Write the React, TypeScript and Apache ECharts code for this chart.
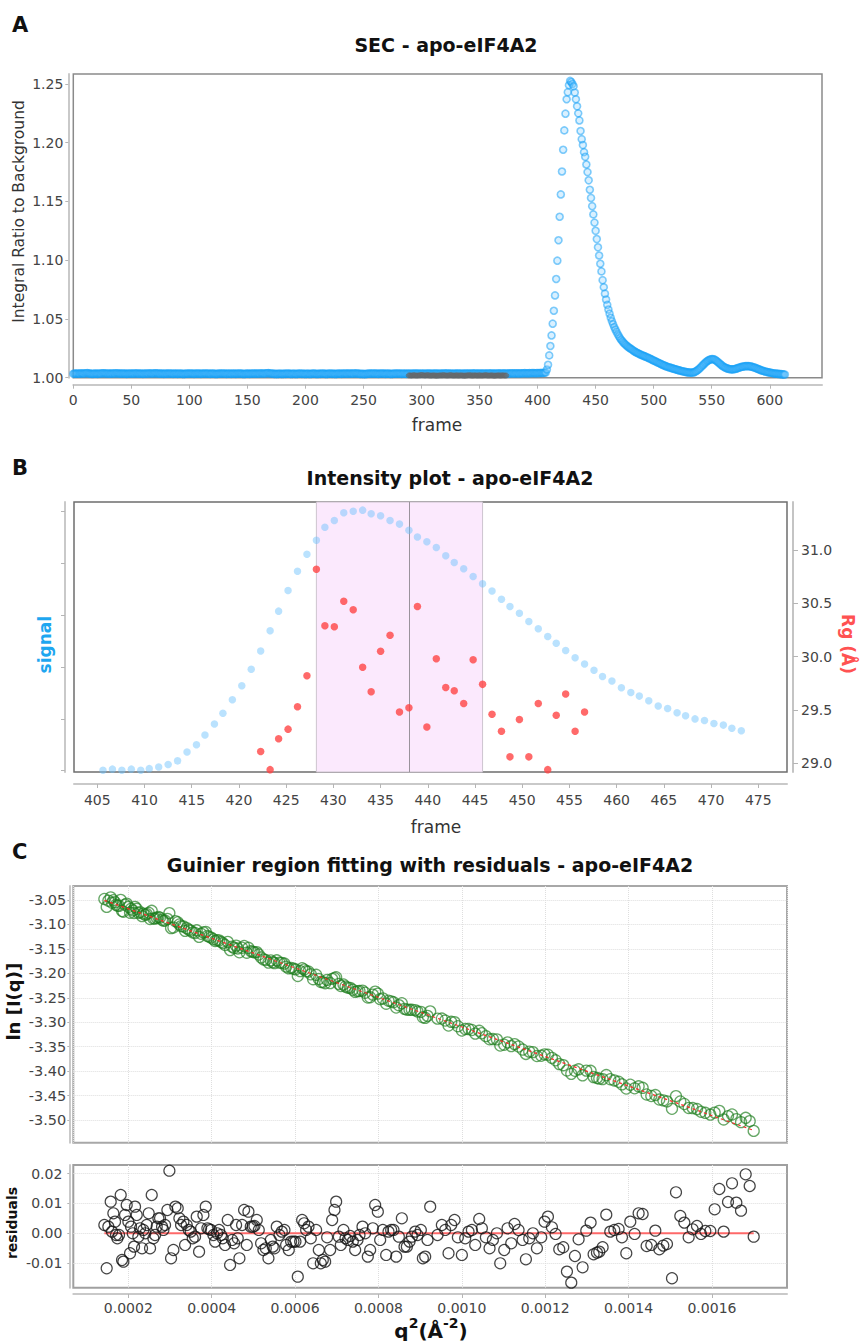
import React, { useEffect, useRef } from "react";
import * as echarts from "echarts";

// ---------- Panel A : SEC profile ----------
const secStartFrame = 0;
const secBaseline = [
  1.0033,1.0035,1.0034,1.0036,1.0035,1.0034,1.0036,1.0037,1.0036,1.0035,
  1.0037,1.0038,1.0039,1.0037,1.0035,1.0034,1.0033,1.0033,1.0034,1.0035,
  1.0034,1.0033,1.0035,1.0036,1.0035,1.0037,1.0038,1.0037,1.0036,1.0035,
  1.0036,1.0035,1.0034,1.0035,1.0036,1.0037,1.0036,1.0037,1.0038,1.0036,
  1.0035,1.0034,1.0035,1.0036,1.0035,1.0034,1.0033,1.0034,1.0035,1.0036,
  1.0035,1.0034,1.0035,1.0036,1.0037,1.0036,1.0035,1.0034,1.0035,1.0034,
  1.0033,1.0034,1.0035,1.0036,1.0035,1.0036,1.0037,1.0036,1.0035,1.0036,
  1.0037,1.0038,1.0037,1.0036,1.0035,1.0034,1.0035,1.0034,1.0033,1.0034,
  1.0035,1.0034,1.0035,1.0036,1.0035,1.0034,1.0033,1.0034,1.0035,1.0034,
  1.0033,1.0034,1.0035,1.0034,1.0033,1.0032,1.0033,1.0034,1.0035,1.0034,
  1.0035,1.0036,1.0035,1.0034,1.0033,1.0034,1.0035,1.0036,1.0035,1.0034,
  1.0033,1.0034,1.0035,1.0036,1.0035,1.0034,1.0035,1.0034,1.0033,1.0034,
  1.0035,1.0034,1.0033,1.0032,1.0033,1.0034,1.0035,1.0034,1.0035,1.0036,
  1.0035,1.0034,1.0033,1.0034,1.0035,1.0034,1.0033,1.0034,1.0035,1.0034,
  1.0033,1.0034,1.0035,1.0036,1.0035,1.0034,1.0033,1.0032,1.0033,1.0034,
  1.0035,1.0034,1.0033,1.0034,1.0035,1.0036,1.0035,1.0034,1.0035,1.0036,
  1.0035,1.0036,1.0037,1.0036,1.0035,1.0036,1.0037,1.0038,1.0039,1.0037,
  1.0036,1.0035,1.0034,1.0033,1.0032,1.0033,1.0032,1.0033,1.0034,1.0033,
  1.0032,1.0033,1.0034,1.0033,1.0034,1.0035,1.0034,1.0033,1.0032,1.0033,
  1.0034,1.0033,1.0032,1.0033,1.0034,1.0035,1.0034,1.0033,1.0034,1.0033,
  1.0032,1.0033,1.0034,1.0033,1.0032,1.0033,1.0034,1.0035,1.0034,1.0033,
  1.0032,1.0033,1.0034,1.0033,1.0034,1.0035,1.0034,1.0033,1.0032,1.0033,
  1.0034,1.0035,1.0034,1.0033,1.0034,1.0033,1.0032,1.0033,1.0034,1.0035,
  1.0034,1.0033,1.0034,1.0035,1.0036,1.0035,1.0034,1.0035,1.0036,1.0035,
  1.0034,1.0035,1.0036,1.0037,1.0036,1.0035,1.0034,1.0033,1.0032,1.0033,
  1.0032,1.0031,1.0032,1.0033,1.0034,1.0035,1.0034,1.0035,1.0036,1.0035,
  1.0034,1.0035,1.0034,1.0033,1.0034,1.0035,1.0036,1.0035,1.0034,1.0033,
  1.0034,1.0035,1.0034,1.0033,1.0032,1.0033,1.0034,1.0035,1.0034,1.0035,
  1.0036,1.0035,1.0034,1.0033,1.0034,1.0035,1.0034,1.0033,1.0034,1.0035,
  1.0034,1.0033,1.0034,1.0035,1.0036,1.0035,1.0034,1.0035,1.0034,1.0033,
  1.0034,1.0035,1.0034,1.0033,1.0034,1.0035,1.0036,1.0035,1.0034,1.0033,
  1.0034,1.0035,1.0036,1.0035,1.0034,1.0033,1.0034,1.0035,1.0034,1.0035,
  1.0036,1.0037,1.0036,1.0035,1.0034,1.0035,1.0034,1.0033,1.0034,1.0035,
  1.0034,1.0035,1.0036,1.0035,1.0034,1.0033,1.0034,1.0035,1.0036,1.0035,
  1.0034,1.0035,1.0034,1.0035,1.0036,1.0037,1.0036,1.0035,1.0034,1.0035,
  1.0036,1.0035,1.0034,1.0035,1.0036,1.0035,1.0034,1.0035,1.0036,1.0037,
  1.0036,1.0035,1.0034,1.0035,1.0036,1.0035,1.0036,1.0037,1.0036,1.0035,
  1.0036,1.0037,1.0036,1.0035,1.0036,1.0037,1.0036,1.0037,1.0038,1.0037,
  1.0036,1.0037,1.0038,1.0037,1.0036,1.0037,1.0038,1.0037,1.0038,1.0039,
  1.0038,1.0037,1.0038,1.0039,1.0038,1.0039,1.0040,1.0039,1.0038,1.0039,
  1.0040,1.0039,1.0040,1.0041,1.0040,1.0041,1.0042,
];
const secPeak = [
  1.0045,1.0070,1.0110,1.0190,1.0270,1.0360,1.0460,1.0570,1.0700,1.0840,
  1.0996,1.1170,1.1370,1.1560,1.1755,1.1940,1.2105,1.2247,1.2370,1.2430,
  1.2490,1.2526,1.2517,1.2500,1.2480,1.2427,1.2370,1.2310,1.2250,1.2190,
  1.2100,1.2030,1.1980,1.1920,1.1880,1.1815,1.1750,1.1680,1.1600,1.1530,
  1.1460,1.1390,1.1320,1.1250,1.1180,1.1110,1.1040,1.0970,1.0905,1.0830,
  1.0770,1.0715,1.0665,1.0620,1.0580,1.0545,1.0510,1.0480,1.0455,1.0430,
  1.0410,1.0390,1.0370,1.0352,1.0336,1.0322,1.0310,1.0298,1.0288,1.0279,
  1.0270,1.0262,1.0255,1.0248,1.0241,1.0234,1.0227,1.0221,1.0215,1.0210,
  1.0205,1.0200,1.0196,1.0191,1.0187,1.0183,1.0179,1.0175,1.0170,1.0166,
  1.0161,1.0156,1.0151,1.0146,1.0141,1.0137,1.0132,1.0127,1.0122,1.0118,
  1.0113,1.0108,1.0104,1.0100,1.0096,1.0092,1.0089,1.0086,1.0083,1.0080,
  1.0077,1.0074,1.0071,1.0068,1.0065,1.0062,1.0060,1.0057,1.0055,1.0052,
  1.0050,1.0048,1.0046,1.0045,1.0044,1.0043,1.0043,1.0044,1.0047,1.0052,
  1.0058,1.0065,1.0073,1.0082,1.0092,1.0103,1.0113,1.0123,1.0132,1.0140,
  1.0147,1.0152,1.0156,1.0158,1.0158,1.0156,1.0151,1.0144,1.0136,1.0127,
  1.0118,1.0110,1.0102,1.0095,1.0089,1.0084,1.0080,1.0077,1.0074,1.0072,
  1.0071,1.0071,1.0072,1.0074,1.0077,1.0080,1.0084,1.0087,1.0090,1.0093,
  1.0095,1.0097,1.0098,1.0099,1.0099,1.0098,1.0097,1.0095,1.0092,1.0089,
  1.0086,1.0082,1.0078,1.0074,1.0070,1.0066,1.0062,1.0059,1.0056,1.0053,
  1.0050,1.0048,1.0046,1.0044,1.0042,1.0040,1.0038,1.0036,1.0035,1.0034,
  1.0033,1.0032,1.0031,1.0030,1.0029,1.0028,1.0027,
];
const bufferStartFrame = 289;
const bufferRatio = [
  1.0019,1.0020,1.0018,1.0019,1.0021,1.0020,1.0019,1.0018,1.0019,1.0020,
  1.0021,1.0022,1.0021,1.0020,1.0019,1.0020,1.0021,1.0020,1.0019,1.0018,
  1.0019,1.0020,1.0019,1.0018,1.0017,1.0018,1.0019,1.0020,1.0019,1.0020,
  1.0021,1.0020,1.0019,1.0018,1.0019,1.0020,1.0021,1.0020,1.0019,1.0018,
  1.0019,1.0020,1.0019,1.0018,1.0019,1.0020,1.0019,1.0018,1.0017,1.0018,
  1.0019,1.0020,1.0021,1.0020,1.0019,1.0018,1.0019,1.0020,1.0019,1.0018,
  1.0019,1.0020,1.0019,1.0018,1.0019,1.0020,1.0021,1.0020,1.0019,1.0018,
  1.0019,1.0020,1.0019,1.0018,1.0017,1.0018,1.0019,1.0020,1.0019,1.0018,
  1.0019,1.0020,1.0019,1.0018,1.0019,
];
const secXTicks = [0, 50, 100, 150, 200, 250, 300, 350, 400, 450, 500, 550, 600];
const secYTicks = [1.0, 1.05, 1.1, 1.15, 1.2, 1.25];

// ---------- Panel B : intensity plot ----------
const bFrames = [
  405.6,406.6,407.6,408.6,409.6,410.5,411.5,412.5,413.5,414.5,
  415.5,416.4,417.4,418.3,419.3,420.3,421.3,422.3,423.3,424.2,
  425.2,426.2,427.2,428.2,429.1,430.1,431.1,432.1,433.1,434.0,
  435.0,436.0,437.0,438.0,438.9,439.9,440.9,441.9,442.8,443.8,
  444.8,445.8,446.8,447.8,448.7,449.7,450.7,451.7,452.7,453.6,
  454.6,455.6,456.6,457.6,458.5,459.5,460.5,461.5,462.4,463.4,
  464.4,465.4,466.4,467.3,468.3,469.3,470.3,471.3,472.2,473.2,
];
const bSignal = [
  0.01,0.03,0.01,0.03,0.01,0.04,0.07,0.12,0.19,0.36,
  0.50,0.69,0.90,1.11,1.37,1.64,1.96,2.31,2.70,3.08,
  3.48,3.85,4.18,4.45,4.70,4.83,4.98,5.01,5.03,4.96,
  4.92,4.83,4.76,4.64,4.51,4.42,4.31,4.15,4.02,3.90,
  3.75,3.61,3.47,3.31,3.17,3.04,2.88,2.74,2.59,2.46,
  2.32,2.18,2.06,1.94,1.82,1.73,1.60,1.51,1.44,1.35,
  1.25,1.20,1.12,1.06,1.00,0.97,0.91,0.88,0.82,0.77,
];
const bRg = [
  null,null,null,null,null,null,null,null,null,null,
  null,null,null,null,null,null,null,29.11,28.94,29.23,
  29.32,29.53,29.82,30.82,30.29,30.28,30.52,30.44,29.90,29.67,
  30.05,30.20,29.48,29.52,30.47,29.34,29.98,29.71,29.68,29.56,
  29.97,29.74,29.46,29.30,29.06,29.41,29.06,29.56,28.94,29.45,
  29.65,29.30,29.48,null,null,null,null,null,null,null,
  null,null,null,null,null,null,null,null,null,null,
];
const bSelStartIdx = 23;
const bSelEndIdx = 41;
const bSelMidIdx = 33;
const bXTicks = [405, 410, 415, 420, 425, 430, 435, 440, 445, 450, 455, 460, 465, 470, 475];
const bSignalTicks = [0, 1, 2, 3, 4, 5];
const bRgTicks = [29.0, 29.5, 30.0, 30.5, 31.0];

// ---------- Panel C : Guinier fit ----------
const guinierIntercept = -3.0077;
const guinierSlope = -302;
const guinierQ2 = [
  1.425e-4,1.481e-4,1.521e-4,1.577e-4,1.609e-4,1.641e-4,1.681e-4,1.705e-4,1.737e-4,1.777e-4,
  1.817e-4,1.849e-4,1.881e-4,1.921e-4,1.961e-4,2.001e-4,2.041e-4,2.065e-4,2.105e-4,2.137e-4,
  2.161e-4,2.201e-4,2.241e-4,2.281e-4,2.329e-4,2.361e-4,2.409e-4,2.441e-4,2.489e-4,2.521e-4,
  2.561e-4,2.601e-4,2.641e-4,2.681e-4,2.721e-4,2.761e-4,2.809e-4,2.841e-4,2.881e-4,2.937e-4,
  2.985e-4,3.025e-4,3.081e-4,3.129e-4,3.185e-4,3.225e-4,3.265e-4,3.321e-4,3.361e-4,3.401e-4,
  3.449e-4,3.497e-4,3.545e-4,3.601e-4,3.641e-4,3.697e-4,3.745e-4,3.801e-4,3.857e-4,3.897e-4,
  3.937e-4,3.985e-4,4.041e-4,4.081e-4,4.129e-4,4.177e-4,4.225e-4,4.265e-4,4.321e-4,4.385e-4,
  4.441e-4,4.489e-4,4.537e-4,4.585e-4,4.625e-4,4.665e-4,4.729e-4,4.777e-4,4.841e-4,4.881e-4,
  4.937e-4,4.985e-4,5.025e-4,5.081e-4,5.129e-4,5.185e-4,5.241e-4,5.297e-4,5.361e-4,5.417e-4,
  5.465e-4,5.505e-4,5.561e-4,5.625e-4,5.681e-4,5.745e-4,5.785e-4,5.849e-4,5.905e-4,5.961e-4,
  6.009e-4,6.065e-4,6.121e-4,6.169e-4,6.217e-4,6.265e-4,6.321e-4,6.377e-4,6.433e-4,6.505e-4,
  6.569e-4,6.617e-4,6.665e-4,6.721e-4,6.769e-4,6.841e-4,6.889e-4,6.945e-4,6.985e-4,7.049e-4,
  7.097e-4,7.161e-4,7.209e-4,7.265e-4,7.321e-4,7.385e-4,7.441e-4,7.497e-4,7.545e-4,7.617e-4,
  7.681e-4,7.745e-4,7.801e-4,7.865e-4,7.921e-4,7.985e-4,8.041e-4,8.105e-4,8.185e-4,8.241e-4,
  8.305e-4,8.361e-4,8.425e-4,8.489e-4,8.561e-4,8.625e-4,8.681e-4,8.745e-4,8.801e-4,8.881e-4,
  8.937e-4,9.017e-4,9.065e-4,9.121e-4,9.177e-4,9.241e-4,9.417e-4,9.521e-4,9.601e-4,9.681e-4,
  9.745e-4,9.825e-4,9.905e-4,10.001e-4,10.081e-4,10.161e-4,10.241e-4,10.321e-4,10.417e-4,10.481e-4,
  10.577e-4,10.665e-4,10.745e-4,10.841e-4,10.921e-4,11.017e-4,11.097e-4,11.185e-4,11.265e-4,11.361e-4,
  11.457e-4,11.537e-4,11.617e-4,11.705e-4,11.801e-4,11.905e-4,11.985e-4,12.065e-4,12.161e-4,12.249e-4,
  12.337e-4,12.433e-4,12.521e-4,12.625e-4,12.713e-4,12.801e-4,12.897e-4,12.985e-4,13.089e-4,13.161e-4,
  13.241e-4,13.297e-4,13.377e-4,13.465e-4,13.561e-4,13.657e-4,13.761e-4,13.841e-4,13.945e-4,14.041e-4,
  14.145e-4,14.241e-4,14.337e-4,14.433e-4,14.545e-4,14.641e-4,14.737e-4,14.833e-4,14.921e-4,15.041e-4,
  15.137e-4,15.241e-4,15.337e-4,15.441e-4,15.537e-4,15.641e-4,15.737e-4,15.841e-4,15.961e-4,16.065e-4,
  16.177e-4,16.281e-4,16.385e-4,16.481e-4,16.585e-4,16.697e-4,16.809e-4,16.905e-4,17.001e-4,
];
const guinierResid = [
  2.79e-3,-11.73e-3,2.23e-3,10.61e-3,0.56e-3,6.70e-3,3.91e-3,-0.56e-3,-1.68e-3,-0.56e-3,
  12.85e-3,-8.94e-3,-9.50e-3,6.15e-3,9.50e-3,3.91e-3,-6.70e-3,2.23e-3,0.00e-3,-4.47e-3,
  8.94e-3,6.15e-3,-1.12e-3,1.68e-3,-5.03e-3,1.12e-3,0.00e-3,2.79e-3,6.70e-3,-5.03e-3,
  12.85e-3,-1.68e-3,-0.56e-3,2.23e-3,5.03e-3,5.03e-3,2.23e-3,1.12e-3,2.79e-3,7.82e-3,
  21.0e-3,-8.38e-3,-5.59e-3,8.94e-3,8.38e-3,5.03e-3,2.79e-3,3.91e-3,-3.91e-3,2.79e-3,
  1.12e-3,0.56e-3,-1.68e-3,-1.12e-3,5.59e-3,-6.15e-3,1.68e-3,6.15e-3,8.94e-3,1.68e-3,
  1.34e-3,1.12e-3,-0.56e-3,-2.79e-3,0.00e-3,1.12e-3,-0.56e-3,-1.68e-3,-3.91e-3,4.47e-3,
  -10.61e-3,-2.23e-3,-3.35e-3,2.79e-3,-1.68e-3,-8.38e-3,2.79e-3,7.82e-3,-3.91e-3,7.26e-3,
  2.23e-3,2.23e-3,2.46e-3,4.47e-3,1.12e-3,-3.35e-3,-5.59e-3,-5.03e-3,-8.38e-3,-2.23e-3,
  -4.47e-3,-5.03e-3,2.23e-3,-0.56e-3,0.56e-3,1.12e-3,-3.91e-3,-5.59e-3,-2.79e-3,-2.79e-3,
  -2.79e-3,-14.53e-3,-2.79e-3,4.47e-3,3.35e-3,1.12e-3,2.23e-3,-1.68e-3,-10.06e-3,1.12e-3,
  -5.59e-3,-10.06e-3,-8.94e-3,-9.50e-3,-1.34e-3,-5.59e-3,4.47e-3,7.82e-3,10.61e-3,-1.12e-3,
  -3.91e-3,1.12e-3,-1.68e-3,-2.23e-3,-0.89e-3,-2.79e-3,-5.59e-3,-2.23e-3,-0.56e-3,2.23e-3,
  0.00e-3,-7.82e-3,-5.59e-3,1.68e-3,9.50e-3,7.26e-3,-2.23e-3,1.12e-3,-7.26e-3,0.56e-3,
  1.12e-3,1.12e-3,-7.82e-3,-1.12e-3,5.03e-3,-4.47e-3,-4.47e-3,-2.79e-3,-1.12e-3,0.56e-3,
  -0.56e-3,1.12e-3,-8.38e-3,-7.82e-3,-2.23e-3,8.94e-3,-0.56e-3,2.79e-3,1.12e-3,-6.70e-3,
  2.79e-3,4.47e-3,-1.34e-3,-7.26e-3,-1.68e-3,0.56e-3,1.12e-3,-3.91e-3,4.80e-3,1.68e-3,
  -1.34e-3,-5.03e-3,-2.23e-3,0.00e-3,-10.06e-3,-5.59e-3,1.68e-3,-3.35e-3,3.13e-3,1.12e-3,
  -2.23e-3,-8.72e-3,-1.68e-3,0.00e-3,-5.03e-3,-1.34e-3,3.91e-3,5.59e-3,2.01e-3,-0.22e-3,
  -5.36e-3,-4.69e-3,-12.85e-3,-16.54e-3,-7.60e-3,-2.01e-3,-11.40e-3,0.89e-3,3.58e-3,-7.04e-3,
  -6.48e-3,-6.15e-3,-4.69e-3,6.26e-3,0.56e-3,1.12e-3,1.45e-3,-1.34e-3,-6.70e-3,3.91e-3,
  -0.22e-3,6.70e-3,6.48e-3,-4.25e-3,-3.91e-3,0.89e-3,-5.36e-3,-4.13e-3,-3.58e-3,-15.08e-3,
  13.74e-3,5.81e-3,3.58e-3,-1.34e-3,1.34e-3,2.46e-3,-0.22e-3,0.78e-3,0.78e-3,8.04e-3,
  14.86e-3,0.56e-3,10.50e-3,16.76e-3,10.28e-3,7.60e-3,19.78e-3,15.87e-3,-1.12e-3,
];
const guinierYTicks = [-3.5, -3.45, -3.4, -3.35, -3.3, -3.25, -3.2, -3.15, -3.1, -3.05];
const q2Ticks = [0.0002, 0.0004, 0.0006, 0.0008, 0.001, 0.0012, 0.0014, 0.0016];
const residTicks = [-0.01, 0, 0.01, 0.02];

const FONT = "DejaVu Sans";
const LBL = "#444";

function buildOption() {
  const secData = secBaseline.concat(secPeak).map((v, i) => [secStartFrame + i, v]);
  const bufData = bufferRatio.map((v, i) => [bufferStartFrame + i, v]);
  const sigData = bFrames.map((f, i) => [f, bSignal[i]]);
  const rgData = bFrames
    .map((f, i) => [f, bRg[i]])
    .filter((d) => d[1] !== null);
  const fit = (q: number) => guinierIntercept + guinierSlope * q;
  const lnIData = guinierQ2.map((q, i) => [q, fit(q) + guinierResid[i]]);
  const residData = guinierQ2.map((q, i) => [q, guinierResid[i]]);
  const qFirst = guinierQ2[0];
  const qLast = guinierQ2[guinierQ2.length - 1];

  const lightAxis = (extra: any = {}) => ({
    show: true,
    onZero: false,
    lineStyle: { color: "#c9c9c9", width: 2 },
    ...extra,
  });
  const lbl = (extra: any = {}) => ({
    show: true,
    fontSize: 14,
    color: LBL,
    fontFamily: FONT,
    ...extra,
  });
  const tick = (values: number[], len = 4) => ({
    show: true,
    inside: false,
    length: len,
    customValues: values,
    lineStyle: { color: "#b5b5b5", width: 1 },
  });
  const dotted = { show: true, lineStyle: { color: "#dedede", type: "dotted", width: 1 } };

  const txt = (text: string, x: number, y: number, size: number, opts: any = {}) => ({
    type: "text",
    x,
    y,
    rotation: opts.rotation || 0,
    silent: true,
    style: {
      text,
      fontSize: size,
      fontWeight: opts.bold ? "bold" : "normal",
      fontFamily: FONT,
      fill: opts.color || "#111",
      align: opts.align || "center",
      verticalAlign: "middle",
    },
  });

  return {
    animation: false,
    backgroundColor: "#ffffff",
    textStyle: { fontFamily: FONT },
    grid: [
      { left: 73.3, top: 74, width: 748.7, height: 303.7, show: true, borderColor: "#8a8a8a", borderWidth: 1.5, backgroundColor: "transparent", containLabel: false, outerBoundsMode: "none" },
      { left: 74, top: 502, width: 713, height: 270, show: true, borderColor: "#6e6e6e", borderWidth: 1.5, backgroundColor: "transparent", containLabel: false, outerBoundsMode: "none" },
      { left: 73.3, top: 886, width: 713.7, height: 256.7, show: true, borderColor: "#a8a8a8", borderWidth: 2, backgroundColor: "transparent", containLabel: false, outerBoundsMode: "none" },
      { left: 73.3, top: 1165, width: 713.7, height: 122.7, show: true, borderColor: "#a0a0a0", borderWidth: 2, backgroundColor: "transparent", containLabel: false, outerBoundsMode: "none" },
    ],
    xAxis: [
      {
        gridIndex: 0, type: "value", position: "bottom", offset: 7, min: 0, max: 645, splitNumber: 13,
        axisLine: lightAxis(), axisTick: tick(secXTicks),
        axisLabel: lbl({ customValues: secXTicks, margin: 8 }),
        splitLine: { show: false },
      },
      {
        gridIndex: 1, type: "value", position: "bottom", offset: 12, min: 402.53, max: 478.04, splitNumber: 15,
        axisLine: lightAxis(), axisTick: tick(bXTicks),
        axisLabel: lbl({ customValues: bXTicks, margin: 9 }),
        splitLine: { show: false },
      },
      {
        gridIndex: 2, type: "value", min: 0.000068, max: 0.00178, splitNumber: 8,
        axisLine: { show: false, onZero: false }, axisTick: { show: false }, axisLabel: { show: false },
        splitLine: dotted,
      },
      {
        gridIndex: 3, type: "value", position: "bottom", offset: 6.3, min: 0.000068, max: 0.00178, splitNumber: 8,
        axisLine: lightAxis(), axisTick: tick(q2Ticks),
        axisLabel: lbl({ customValues: q2Ticks, margin: 7, formatter: (v: number) => v.toFixed(4) }),
        splitLine: dotted,
      },
    ],
    yAxis: [
      {
        gridIndex: 0, type: "value", position: "left", offset: 5, min: 1.0, max: 1.2585, splitNumber: 5,
        axisLine: lightAxis(), axisTick: tick(secYTicks, 3),
        axisLabel: lbl({ customValues: secYTicks, margin: 5, formatter: (v: number) => v.toFixed(2) }),
        splitLine: { show: false },
      },
      {
        gridIndex: 1, type: "value", position: "left", offset: 9, min: -0.025, max: 5.187, splitNumber: 5,
        axisLine: lightAxis(), axisTick: tick(bSignalTicks, 4),
        axisLabel: { show: false },
        splitLine: { show: false },
      },
      {
        gridIndex: 1, type: "value", position: "right", offset: 6, min: 28.918, max: 31.45, splitNumber: 5,
        axisLine: lightAxis({ lineStyle: { color: "#c4c4c4", width: 2 } }), axisTick: tick(bRgTicks, 5),
        axisLabel: lbl({ customValues: bRgTicks, margin: 8, formatter: (v: number) => v.toFixed(1) }),
        splitLine: { show: false },
      },
      {
        gridIndex: 2, type: "value", position: "left", offset: 4, min: -3.5464, max: -3.0214, splitNumber: 10,
        axisLine: lightAxis(), axisTick: tick(guinierYTicks, 2),
        axisLabel: lbl({ customValues: guinierYTicks, margin: 3, fontSize: 14.5, formatter: (v: number) => v.toFixed(2) }),
        splitLine: dotted,
      },
      {
        gridIndex: 3, type: "value", position: "left", offset: 4, min: -0.01824, max: 0.0229, splitNumber: 4,
        axisLine: lightAxis(), axisTick: tick(residTicks, 2),
        axisLabel: lbl({ customValues: residTicks, margin: 7, formatter: (v: number) => v.toFixed(2) }),
        splitLine: dotted,
      },
    ],
    series: [
      {
        name: "SEC signal", type: "scatter", xAxisIndex: 0, yAxisIndex: 0, data: secData,
        symbol: "circle", symbolSize: 7,
        itemStyle: { color: "rgba(120,200,255,0.35)", borderColor: "rgba(20,160,245,0.65)", borderWidth: 1.6 },
        z: 2,
      },
      {
        name: "Buffer frames", type: "scatter", xAxisIndex: 0, yAxisIndex: 0, data: bufData,
        symbol: "circle", symbolSize: 5,
        itemStyle: { color: "rgba(110,110,110,0.55)", borderColor: "rgba(100,100,100,0.7)", borderWidth: 1 },
        z: 3,
      },
      {
        name: "signal", type: "scatter", xAxisIndex: 1, yAxisIndex: 1, data: sigData,
        symbol: "circle", symbolSize: 7.5,
        itemStyle: { color: "rgba(110,195,252,0.6)" },
        z: 3,
        markArea: {
          silent: true,
          z: 1,
          itemStyle: { color: "#fbe9fd", borderColor: "#cdc4cf", borderWidth: 1 },
          data: [[{ xAxis: bFrames[bSelStartIdx] }, { xAxis: bFrames[bSelEndIdx] }]],
        },
        markLine: {
          silent: true,
          z: 1,
          symbol: ["none", "none"],
          label: { show: false },
          lineStyle: { color: "#9a939c", width: 1, type: "solid" },
          data: [{ xAxis: bFrames[bSelMidIdx] }],
        },
      },
      {
        name: "Rg", type: "scatter", xAxisIndex: 1, yAxisIndex: 2, data: rgData,
        symbol: "circle", symbolSize: 7.5,
        itemStyle: { color: "#ff4545" },
        z: 4,
      },
      {
        name: "ln I(q)", type: "scatter", xAxisIndex: 2, yAxisIndex: 3, data: lnIData,
        symbol: "circle", symbolSize: 11,
        itemStyle: { color: "rgba(0,0,0,0)", borderColor: "rgba(30,125,30,0.85)", borderWidth: 1.3 },
        z: 2,
      },
      {
        name: "Guinier fit", type: "line", xAxisIndex: 2, yAxisIndex: 3,
        data: [[qFirst, fit(qFirst)], [qLast, fit(qLast)]],
        symbol: "none",
        lineStyle: { color: "#ff2a2a", width: 1.2, type: [3, 3] },
        z: 5,
      },
      {
        name: "zero", type: "line", xAxisIndex: 3, yAxisIndex: 4,
        data: [[qFirst, 0], [qLast, 0]],
        symbol: "none",
        lineStyle: { color: "rgba(255,90,90,0.9)", width: 2 },
        z: 1,
      },
      {
        name: "residuals", type: "scatter", xAxisIndex: 3, yAxisIndex: 4, data: residData,
        symbol: "circle", symbolSize: 11,
        itemStyle: { color: "rgba(0,0,0,0)", borderColor: "#151515", borderWidth: 1.2 },
        z: 3,
      },
    ],
    graphic: {
      elements: [
        txt("A", 12, 24.5, 21, { bold: true, align: "left" }),
        txt("B", 12, 467.5, 21, { bold: true, align: "left" }),
        txt("C", 12, 851.5, 21, { bold: true, align: "left" }),
        txt("SEC - apo-eIF4A2", 446, 44.5, 19, { bold: true }),
        txt("Intensity plot - apo-eIF4A2", 450, 478, 19, { bold: true }),
        txt("Guinier region fitting with residuals - apo-eIF4A2", 430, 864.5, 19, { bold: true }),
        txt("Integral Ratio to Background", 19, 211.5, 15.5, { rotation: Math.PI / 2, color: "#333" }),
        txt("frame", 437, 425, 17, { color: "#333" }),
        txt("signal", 45.3, 644.7, 17, { bold: true, rotation: Math.PI / 2, color: "#1ea6f0" }),
        txt("Rg (Å)", 848.3, 644, 17, { bold: true, rotation: -Math.PI / 2, color: "#ff5252" }),
        txt("frame", 436, 827, 17, { color: "#333" }),
        txt("ln [I(q)]", 13, 1001.7, 18, { bold: true, rotation: Math.PI / 2 }),
        txt("residuals", 12, 1223, 14, { bold: true, rotation: Math.PI / 2 }),
        {
          type: "text",
          x: 431,
          y: 1328,
          silent: true,
          style: {
            text: "{b|q}{s|2}{b|(Å}{s|-2}{b|)}",
            align: "center",
            verticalAlign: "middle",
            fill: "#111",
            rich: {
              b: { fontSize: 20, fontWeight: "bold", fontFamily: FONT, lineHeight: 25, verticalAlign: "bottom", fill: "#111" },
              s: { fontSize: 14, fontWeight: "bold", fontFamily: FONT, lineHeight: 25, verticalAlign: "top", fill: "#111" },
            },
          },
        },
      ],
    },
  };
}

export default function App() {
  const ref = useRef<HTMLDivElement>(null);
  useEffect(() => {
    if (!ref.current) return;
    const chart = echarts.init(ref.current, null, { renderer: "svg" });
    chart.setOption(buildOption() as any);
    return () => {
      chart.dispose();
    };
  }, []);
  return (
    <div
      ref={ref}
      style={{ position: "absolute", left: 0, top: 0, width: 861, height: 1341, background: "#fff" }}
    />
  );
}
